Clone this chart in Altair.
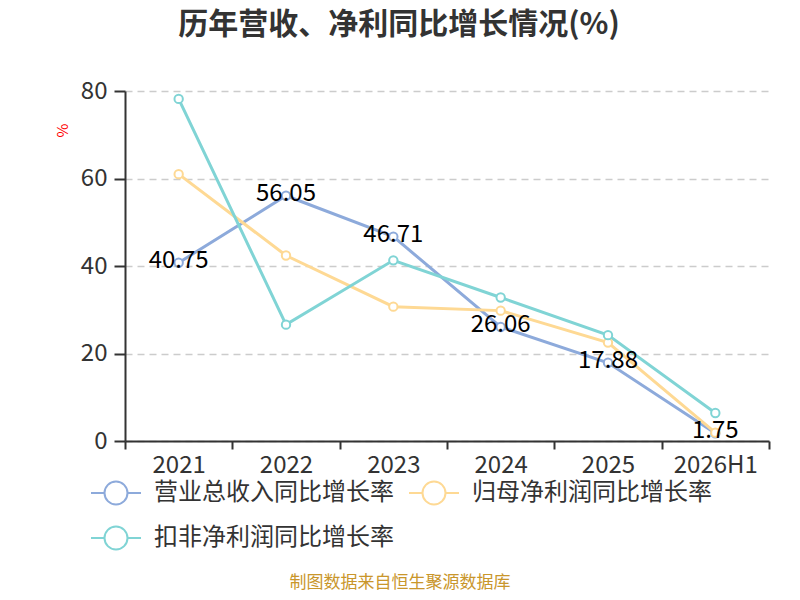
import altair as alt
import pandas as pd

years = ["2021", "2022", "2023", "2024", "2025", "2026H1"]
series = ["营业总收入同比增长率", "归母净利润同比增长率", "扣非净利润同比增长率"]
revenue = [40.75, 56.05, 46.71, 26.06, 17.88, 1.75]
net_profit = [61.0, 42.4, 30.7, 29.8, 22.5, 1.9]
deducted = [78.2, 26.6, 41.3, 32.8, 24.2, 6.4]
colors = ["#8DAADB", "#FED994", "#80D4D5"]
title_text = "历年营收、净利同比增长情况(%)"
source_text = "制图数据来自恒生聚源数据库"

rows = []
for s, vals in zip(series, [revenue, net_profit, deducted]):
    for yr, v in zip(years, vals):
        rows.append({"year": yr, "series": s, "value": v})
df = pd.DataFrame(rows)

FONT = "Noto Sans CJK SC"
legend_path = ("M-1,0L-0.46,0M0.46,0L1,0M-0.46,0"
               "A0.46,0.46,0,1,1,0.46,0A0.46,0.46,0,1,1,-0.46,0Z")

x_enc = alt.X(
    "year:N", sort=years,
    scale=alt.Scale(type="band", paddingInner=0, paddingOuter=0),
    axis=alt.Axis(title=None, tickBand="extent", labelAngle=0, labelFontSize=24,
                  labelColor="#333", domainColor="#333", domainWidth=2,
                  tickColor="#333", tickWidth=2, tickSize=8, labelPadding=4,
                  grid=False, labelFont=FONT),
)
y_enc = alt.Y(
    "value:Q", scale=alt.Scale(domain=[0, 80], nice=False),
    axis=alt.Axis(values=[0, 20, 40, 60, 80], title="%", titleColor="red",
                  titleFontSize=15, titleFontWeight="normal", titleX=-63, titleY=39,
                  titleAlign="center", titleBaseline="middle",
                  grid=True, gridDash=[7, 5], gridColor="#cccccc", gridWidth=1.5,
                  domainColor="#333", domainWidth=2, tickColor="#333", tickWidth=2,
                  tickSize=11, labelPadding=7, labelFontSize=24, labelColor="#333",
                  labelFont=FONT),
)
color_enc = alt.Color(
    "series:N", scale=alt.Scale(domain=series, range=colors),
    legend=alt.Legend(orient="none", legendX=-35, legendY=389, columns=2, title=None,
                      direction="horizontal", values=series,
                      symbolType=legend_path, symbolSize=2500, symbolStrokeWidth=2,
                      symbolFillColor="white",
                      labelFontSize=24, labelColor="#333", labelFont=FONT,
                      labelOffset=12, columnPadding=14, rowPadding=19,
                      clipHeight=26, labelLimit=400),
)

base = alt.Chart(df)
lines = base.mark_line(
    strokeWidth=3,
    point=alt.OverlayMarkDef(filled=False, fill="white", size=70, strokeWidth=2, opacity=1),
).encode(x=x_enc, y=y_enc, color=color_enc)

labels = base.transform_filter(alt.datum.series == series[0]).mark_text(
    fontSize=24, dy=-2, color="black", font=FONT, baseline="middle"
).encode(x=x_enc, y=y_enc, text=alt.Text("value:Q", format=".2f"))

footnote = alt.Chart(alt.Data(values=[{}])).mark_text(
    fontSize=17, color="#C9962B", font=FONT, baseline="middle"
).encode(x=alt.value(275), y=alt.value(492), text=alt.value(source_text))

chart = alt.layer(lines, labels, footnote).properties(
    width=644, height=350,
    title=alt.TitleParams(title_text, fontSize=30, fontWeight="bold", color="#333",
                          anchor="middle", dx=-48, offset=39, font=FONT),
    padding={"left": 117, "top": 83, "right": 23, "bottom": 151},
    autosize=alt.AutoSizeParams(type="none"),
).configure(font=FONT).configure_view(stroke="transparent", strokeWidth=0)

chart.save("out.html", embed_options={"renderer": "svg", "actions": False})
